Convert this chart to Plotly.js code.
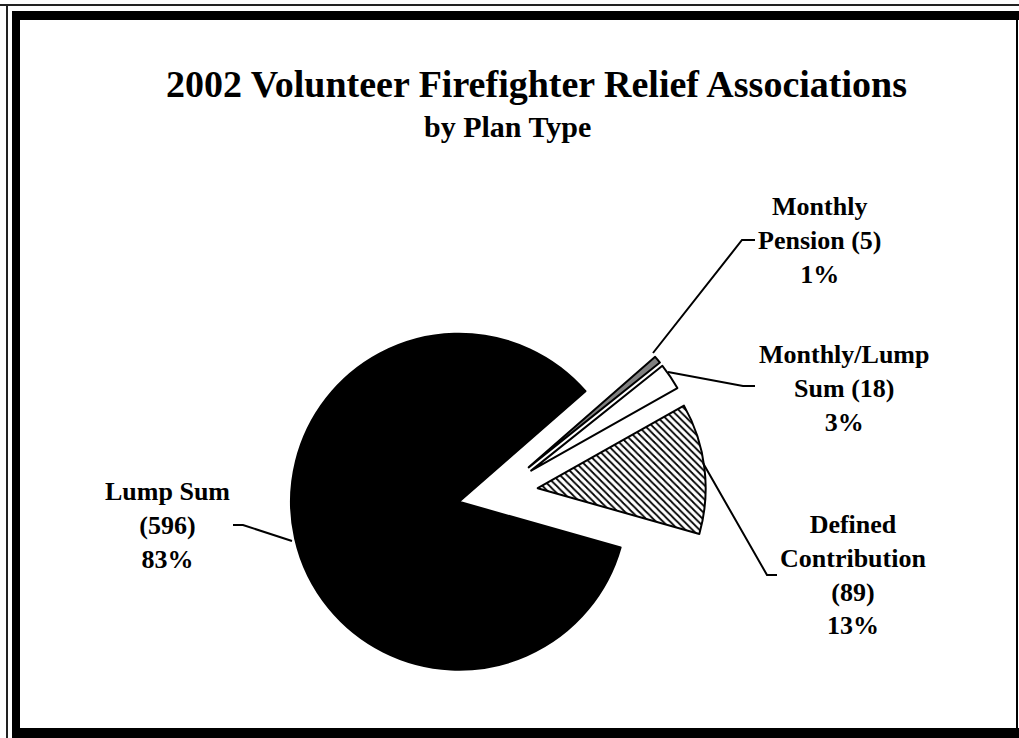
<!DOCTYPE html>
<html>
<head>
<meta charset="utf-8">
<script src="https://cdn.plot.ly/plotly-3.0.1.min.js"></script>
<style>
  html, body { margin: 0; padding: 0; background: #fff; }
  #chart { width: 1019px; height: 738px; }
</style>
</head>
<body>
<div id="chart"></div>
<script>
// ---- data ----
var categories = ['Lump Sum', 'Monthly Pension', 'Monthly/Lump Sum', 'Defined Contribution'];
var counts = [596, 5, 18, 89];
var percentLabels = ['83%', '1%', '3%', '13%'];
var labelNames = ['Lump Sum', 'Monthly<br>Pension', 'Monthly/Lump<br>Sum', 'Defined<br>Contribution'];
var countSeparators = ['<br>', ' ', ' ', '<br>'];
var titleText = '2002 Volunteer Firefighter Relief Associations';
var subtitleText = 'by Plan Type';

// ---- styles ----
var W = 1019, H = 738;
function px(x) { return x / W; }
function py(y) { return 1 - y / H; }
var serif = 'Liberation Serif, Times New Roman, serif';

var sliceColors = ['#000000', '#808080', '#ffffff', '#ffffff'];
var patternShapes = ['', '', '', '\\'];

var trace = {
  type: 'pie',
  labels: categories,
  values: counts,
  sort: false,
  direction: 'clockwise',
  rotation: 105.8,
  pull: [0.238, 0.238, 0.238, 0.238],
  textinfo: 'none',
  hoverinfo: 'label+value+percent',
  showlegend: false,
  domain: { x: [0.2846, 0.6928], y: [0.0502, 0.6138] },
  marker: {
    colors: sliceColors,
    line: { color: '#000000', width: 2 },
    pattern: { shape: patternShapes, fgcolor: '#000000', bgcolor: '#ffffff', size: 5, solidity: 0.35 }
  }
};

// label positions (pixels) and leader lines
var labelPos = [[167, 525], [820, 241], [844, 388], [853, 575]];
var leaders = [
  [[233, 525], [243, 525], [292, 541]],
  [[755, 240], [742, 240], [653, 353]],
  [[755, 386], [743, 386], [668, 372]],
  [[777, 575], [767, 575], [703, 463]]
];

var annotations = [];
for (var i = 0; i < categories.length; i++) {
  annotations.push({
    xref: 'paper', yref: 'paper',
    x: px(labelPos[i][0]), y: py(labelPos[i][1]),
    xanchor: 'center', yanchor: 'middle',
    showarrow: false, align: 'center',
    text: labelNames[i] + countSeparators[i] + '(' + counts[i] + ')<br>' + percentLabels[i],
    font: { family: serif, size: 26, color: '#000', weight: 'bold' }
  });
}
annotations.push({
  xref: 'paper', yref: 'paper', x: px(536), y: py(84),
  xanchor: 'center', yanchor: 'middle', showarrow: false,
  text: titleText,
  font: { family: serif, size: 38, color: '#000', weight: 'bold' }
});
annotations.push({
  xref: 'paper', yref: 'paper', x: px(507), y: py(126),
  xanchor: 'center', yanchor: 'middle', showarrow: false,
  text: subtitleText,
  font: { family: serif, size: 30, color: '#000', weight: 'bold' }
});

var shapes = [];
leaders.forEach(function (pts) {
  var d = 'M ' + px(pts[0][0]) + ',' + py(pts[0][1]);
  for (var k = 1; k < pts.length; k++) d += ' L ' + px(pts[k][0]) + ',' + py(pts[k][1]);
  shapes.push({ type: 'path', xref: 'paper', yref: 'paper', path: d, line: { color: '#000', width: 2 } });
});
function line(x0, y0, x1, y1, w, c) {
  shapes.push({ type: 'line', xref: 'paper', yref: 'paper', x0: px(x0), y0: py(y0), x1: px(x1), y1: py(y1),
    line: { color: c || '#000', width: w } });
}
// frame: outer thin, inner thick
line(0, 5, 1019, 5, 2, '#222');
line(7, 4, 7, 738, 2, '#222');
line(12, 15.5, 1019, 15.5, 9);
line(16, 11, 16, 738, 8);
line(12, 733, 1019, 733, 10);
line(1017, 11, 1017, 738, 2);

var layout = {
  width: W, height: H,
  margin: { l: 0, r: 0, t: 0, b: 0 },
  paper_bgcolor: '#ffffff',
  showlegend: false,
  annotations: annotations,
  shapes: shapes
};

Plotly.newPlot('chart', [trace], layout, { displayModeBar: false, staticPlot: true });
</script>
</body>
</html>
